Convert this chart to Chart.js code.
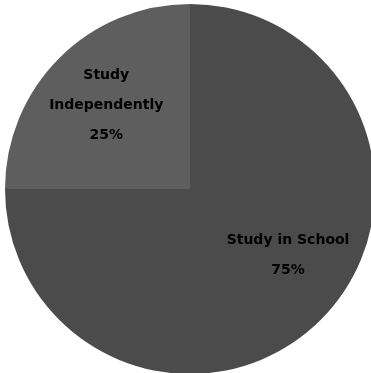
<!DOCTYPE html>
<html>
<head>
<meta charset="utf-8">
<style>
  html, body { margin: 0; padding: 0; background: #fff; overflow: hidden; }
  #wrap { width: 380px; height: 378px; }
</style>
<script src="https://cdn.jsdelivr.net/npm/chart.js@4"></script>
</head>
<body>
<div id="wrap"><canvas id="grafico"></canvas></div>
<script>
// datos
const etiquetas = [['Study in School'], ['Study', 'Independently']];
const valores = [75, 25];
const colores = ['#4b4b4b', '#5e5e5e'];
// desplazamiento angular de cada etiqueta (radianes)
const giroEtiqueta = [-0.19, 0];

// etiquetas dentro de cada porción
const etiquetasPie = {
  id: 'etiquetasPie',
  afterDatasetsDraw(chart) {
    const ctx = chart.ctx;
    const meta = chart.getDatasetMeta(0);
    const total = valores.reduce((a, b) => a + b, 0);
    ctx.save();
    ctx.fillStyle = '#000';
    ctx.font = 'bold 14px "DejaVu Sans", sans-serif';
    ctx.textAlign = 'center';
    ctx.textBaseline = 'middle';
    meta.data.forEach((arc, i) => {
      const mid = (arc.startAngle + arc.endAngle) / 2 + giroEtiqueta[i];
      const r = arc.outerRadius * 0.64;
      const x = arc.x + Math.cos(mid) * r;
      const y = arc.y + Math.sin(mid) * r;
      const lineas = etiquetas[i].concat([Math.round(valores[i] / total * 100) + '%']);
      const alto = 30;
      lineas.forEach((t, j) => {
        ctx.fillText(t, x, y + (j - (lineas.length - 1) / 2) * alto);
      });
    });
    ctx.restore();
  }
};

new Chart(document.getElementById('grafico').getContext('2d'), {
  type: 'pie',
  data: {
    labels: etiquetas.map(e => e.join(' ')),
    datasets: [{
      data: valores,
      backgroundColor: colores,
      borderWidth: 0
    }]
  },
  options: {
    responsive: true,
    maintainAspectRatio: false,
    animation: false,
    layout: { padding: 4 },
    plugins: {
      legend: { display: false },
      tooltip: { enabled: false }
    }
  },
  plugins: [etiquetasPie]
});
</script>
</body>
</html>
